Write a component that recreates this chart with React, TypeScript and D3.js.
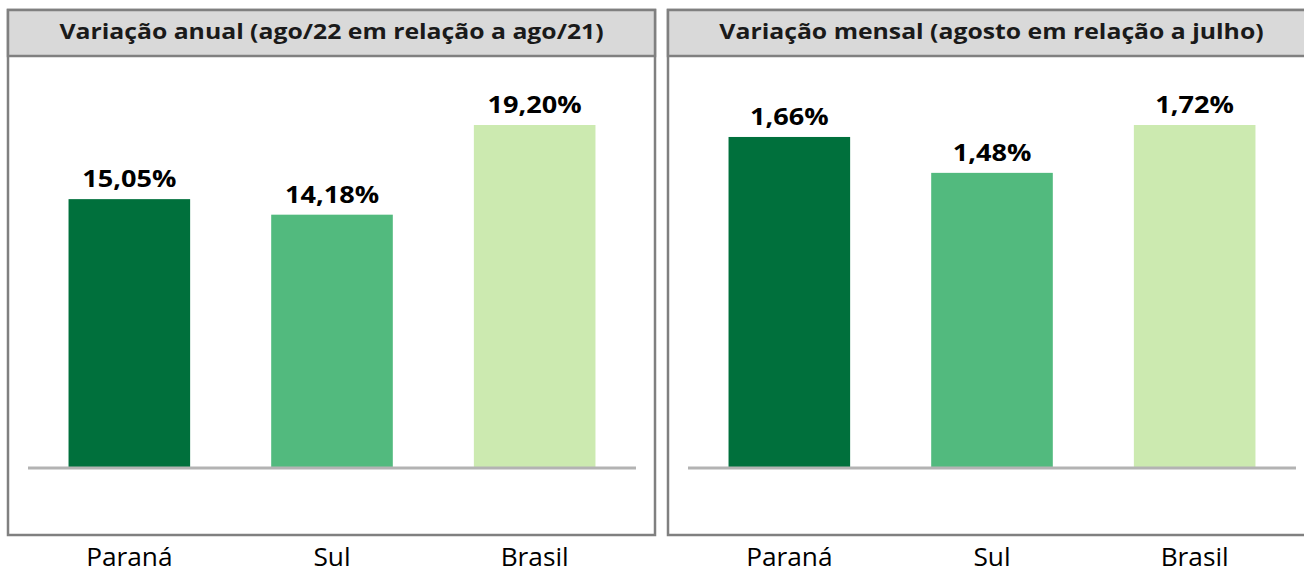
import React, { useEffect, useRef } from 'react';
import * as d3 from 'd3';

const categories = ['Paraná', 'Sul', 'Brasil'];
const annualValues = [15.05, 14.18, 19.2];
const monthlyValues = [1.66, 1.48, 1.72];
const panelTitles = [
  'Variação anual (ago/22 em relação a ago/21)',
  'Variação mensal (agosto em relação a julho)',
];
const barColors = ['#00703c', '#52ba7e', '#cceab0'];

const WIDTH = 1304;
const HEIGHT = 574;

// pt-BR number style: 15,05%
const ptBR = d3.formatLocale({ decimal: ',', thousands: '.', grouping: [3], currency: ['R$', ''] });
const fmt = (v: number) => ptBR.format('.2f')(v) + '%';

const App = () => {
  const ref = useRef<SVGSVGElement>(null);

  useEffect(() => {
    const svg = d3.select(ref.current);
    svg.selectAll('*').remove();

    const panels = [
      { x0: 7, title: panelTitles[0], values: annualValues },
      { x0: 667, title: panelTitles[1], values: monthlyValues },
    ];
    const panelW = 649;
    const top = 10;
    const headerH = 46;
    const bottom = 535;
    const baseY = 468;
    const font = '"Open Sans", sans-serif';

    panels.forEach(p => {
      const g = svg.append('g').attr('transform', `translate(${p.x0},0)`);

      // frame + header
      g.append('rect')
        .attr('x', 1).attr('y', top)
        .attr('width', panelW - 2).attr('height', bottom - top)
        .attr('fill', '#fff')
        .attr('stroke', '#808080')
        .attr('stroke-width', 2.5);
      g.append('rect')
        .attr('x', 1).attr('y', top)
        .attr('width', panelW - 2).attr('height', headerH)
        .attr('fill', '#d9d9d9')
        .attr('stroke', '#808080')
        .attr('stroke-width', 2.5);
      // text is a bit wider than Open Sans, so stretch it sideways
      g.append('text')
        .attr('transform', `translate(${panelW / 2},39) scale(1.18,1)`)
        .attr('text-anchor', 'middle')
        .style('font-family', font)
        .style('font-weight', 'bold')
        .style('font-size', '21px')
        .attr('fill', '#1a1a1a')
        .text(p.title);

      const x = d3.scaleBand()
        .domain(categories)
        .range([21, 629])
        .paddingInner(0.4)
        .paddingOuter(0.2);
      const y = d3.scaleLinear()
        .domain([0, d3.max(p.values) as number])
        .range([baseY, 125]);

      const bars = g.append('g')
        .selectAll('g')
        .data(categories.map((c, i) => ({ c, v: p.values[i], i })))
        .join('g');

      bars.append('rect')
        .attr('x', d => x(d.c) as number)
        .attr('y', d => y(d.v))
        .attr('width', x.bandwidth())
        .attr('height', d => baseY - y(d.v))
        .attr('fill', d => barColors[d.i]);

      bars.append('text')
        .attr('transform', d =>
          `translate(${(x(d.c) as number) + x.bandwidth() / 2},${y(d.v) - 12}) scale(1.13,1)`)
        .attr('text-anchor', 'middle')
        .style('font-family', font)
        .style('font-weight', 'bold')
        .style('font-size', '24px')
        .attr('fill', '#000')
        .text(d => fmt(d.v));

      // baseline
      g.append('line')
        .attr('x1', 21).attr('x2', 629)
        .attr('y1', baseY).attr('y2', baseY)
        .attr('stroke', '#b3b3b3')
        .attr('stroke-width', 3);

      // category labels below the frame
      g.append('g')
        .selectAll('text')
        .data(categories)
        .join('text')
        .attr('transform', d =>
          `translate(${(x(d) as number) + x.bandwidth() / 2},566) scale(1.05,1)`)
        .attr('text-anchor', 'middle')
        .style('font-family', font)
        .style('font-size', '25px')
        .attr('fill', '#000')
        .text(d => d);
    });
  }, []);

  return (
    <svg
      ref={ref}
      width={WIDTH}
      height={HEIGHT}
      style={{ position: 'absolute', left: 0, top: 0, background: '#fff' }}
    />
  );
};

export default App;
